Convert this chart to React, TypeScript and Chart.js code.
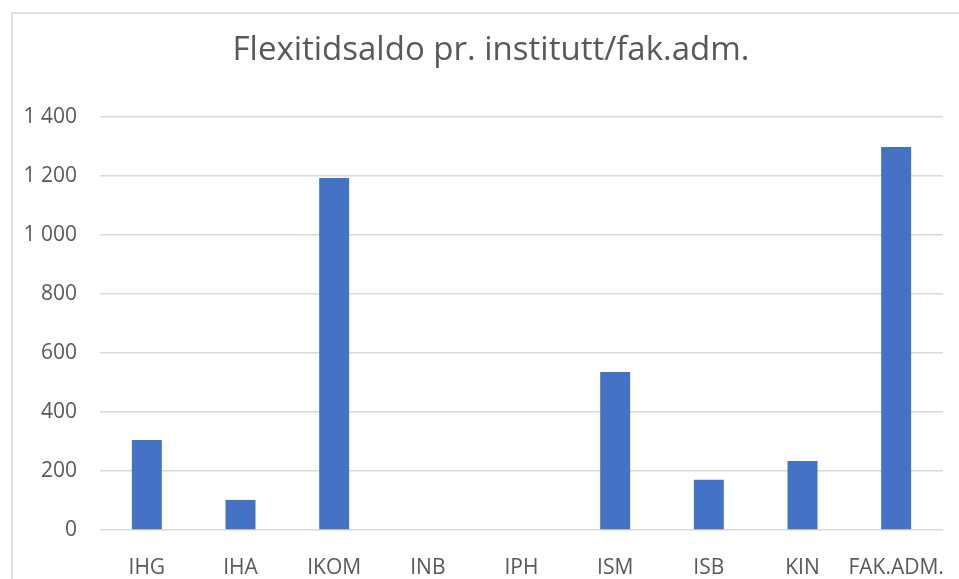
import React, { useEffect, useRef } from "react";
import { Chart, registerables } from "chart.js";

Chart.register(...registerables);

const categories = ["IHG", "IHA", "IKOM", "INB", "IPH", "ISM", "ISB", "KIN", "FAK.ADM."];
const values = [305, 102, 1193, 0, 0, 536, 170, 234, 1298];
const yTicks = [0, 200, 400, 600, 800, 1000, 1200, 1400];
const titleText = "Flexitidsaldo pr. institutt/fak.adm.";

const fmt = (v: number) => {
  const s = Math.round(v).toString();
  return s.replace(/\B(?=(\d{3})+(?!\d))/g, " ");
};

export default function App() {
  const ref = useRef<HTMLCanvasElement | null>(null);
  useEffect(() => {
    document.body.style.margin = "0";
    document.body.style.overflow = "hidden";
    const ctx = ref.current!.getContext("2d")!;
    const chart = new Chart(ctx, {
      type: "bar",
      data: {
        labels: categories,
        datasets: [
          {
            data: values,
            backgroundColor: "#4472C4",
            barPercentage: 1,
            categoryPercentage: 0.32,
          },
        ],
      },
      options: {
        animation: false,
        responsive: false,
        layout: { padding: { left: 0, right: 16, top: 117, bottom: 0 } },
        plugins: {
          legend: { display: false },
          tooltip: { enabled: false },
          title: { display: false },
        },
        scales: {
          x: {
            grid: { display: false, drawTicks: false },
            border: { display: false },
            ticks: {
              color: "#595959",
              font: { family: "'Open Sans', sans-serif", size: 21 },
              padding: 25,
              maxRotation: 0,
              autoSkip: false,
            },
            afterFit: (scale: any) => {
              scale.height = 49;
              scale.paddingLeft = 0;
              scale.paddingRight = 0;
            },
          },
          y: {
            min: 0,
            max: 1400,
            afterBuildTicks: (scale: any) => {
              scale.ticks = yTicks.map((v) => ({ value: v }));
            },
            grid: { color: "#d9d9d9", lineWidth: 1.5, drawTicks: false },
            border: { display: false },
            ticks: {
              color: "#595959",
              font: { family: "'Open Sans', sans-serif", size: 21 },
              padding: 23,
              callback: (v: any) => fmt(Number(v)),
            },
            afterFit: (scale: any) => {
              scale.width = 100;
              scale.paddingTop = 0;
              scale.paddingBottom = 0;
            },
          },
        },
      },
    });
    return () => chart.destroy();
  }, []);
  return (
    <div style={{ position: "fixed", left: 0, top: 0, width: 959, height: 579, overflow: "hidden", background: "#fff" }}>
      <div
        style={{
          position: "absolute",
          left: 11,
          top: 12,
          width: 1000,
          height: 1000,
          borderLeft: "2px solid #e0e0e0",
          borderTop: "2px solid #e0e0e0",
        }}
      />
      <canvas ref={ref} width={959} height={579} style={{ position: "absolute", left: 0, top: 0 }} />
      <div
        style={{
          position: "absolute",
          left: 0,
          top: 28,
          width: 982,
          textAlign: "center",
          fontFamily: "'Open Sans', sans-serif",
          fontSize: 33,
          lineHeight: "40px",
          color: "#595959",
          whiteSpace: "nowrap",
        }}
      >
        {titleText}
      </div>
    </div>
  );
}
